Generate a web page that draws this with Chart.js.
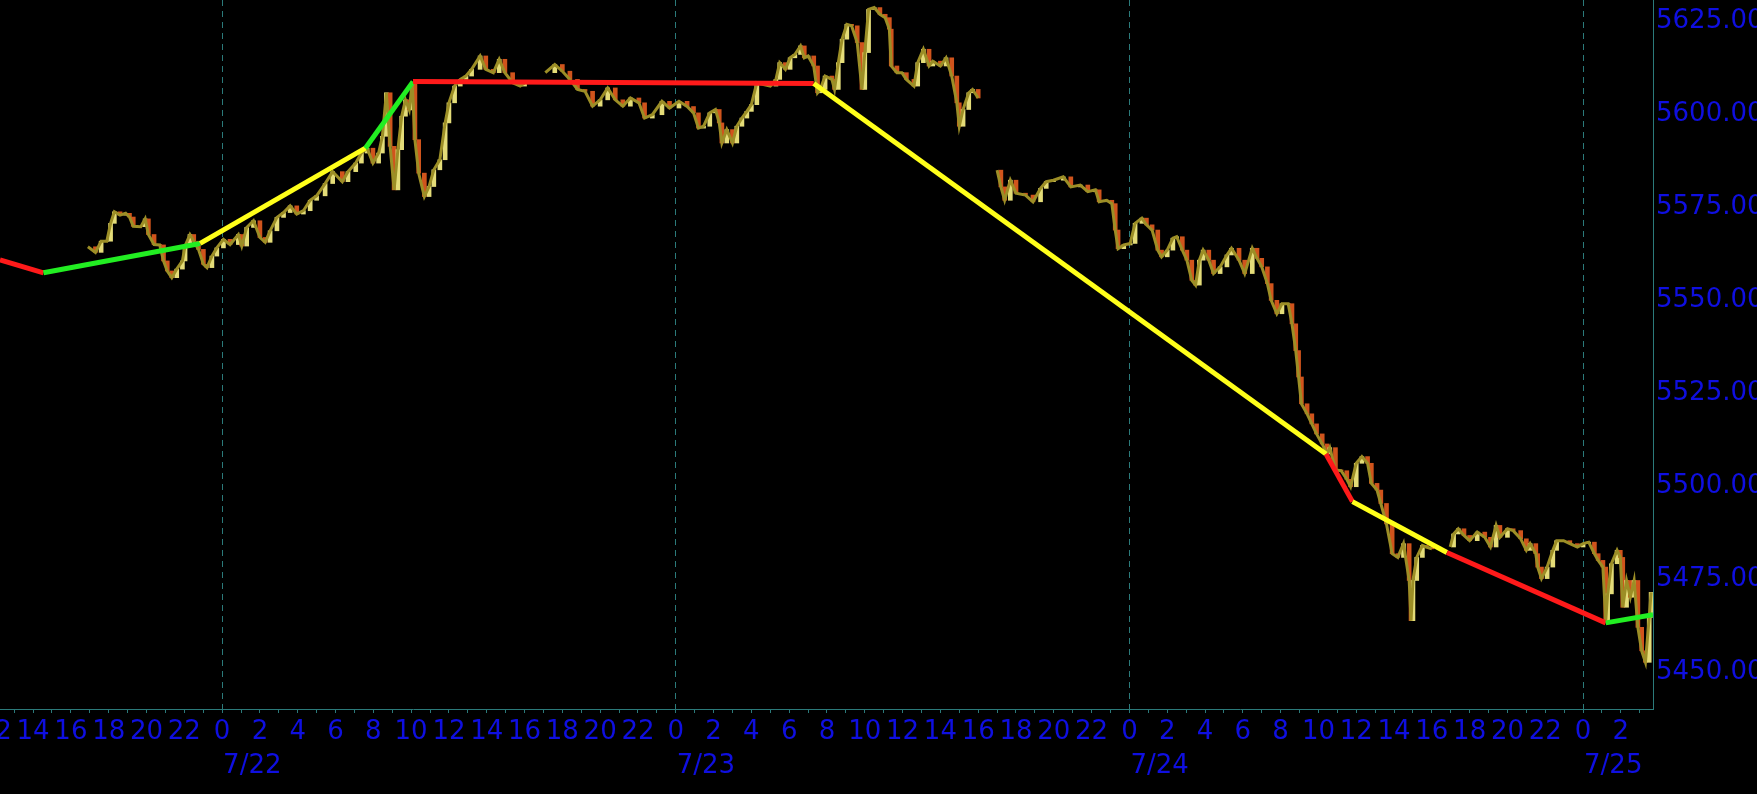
<!DOCTYPE html>
<html>
<head>
<meta charset="utf-8">
<script src="https://cdn.jsdelivr.net/npm/chart.js@4.4.1/dist/chart.umd.min.js"></script>
<style>
    html, body { margin: 0; padding: 0; background: #000; }
    canvas { display: block; }
</style>
</head>
<body>
<canvas id="chart" width="1757" height="794"></canvas>
<script>
// time is in hours counted from 7/22 0:00, null = session break
const hours = [
    -7.1, -6.7, -6.4, -6.1, -5.9, -5.7, -5.4, -5.1, -4.9, -4.7, -4.3, -4.07, -3.9, -3.6, -3.3, -3.1, -2.9, -2.66, -2.4, -2.1,
    -1.96, -1.7, -1.5, -1.25, -0.99, -0.8, -0.54, -0.28, 0.07, 0.42, 0.86, 1.04, 1.3, 1.66, 2.0, 2.28, 2.54, 2.9, 3.25, 3.6,
    3.95, 4.3, 4.66, 5.0, 5.45, 5.85, 6.36, 6.66, 7.07, 7.37, 7.67, 7.98, 8.28, 8.48, 8.69, 8.89, 9.1, 9.3, 9.5, 9.7,
    9.9, 10.06, 10.2, 10.4, 10.7, 10.95, 11.2, 11.52, 11.8, 12.0, 12.3, 12.6, 12.9, 13.2, 13.65, 13.95, 14.35, 14.66, 14.96, 15.37,
    15.77, 16.0, 16.5, 17.1, 17.6, 18.0, 18.4, 18.8, 19.2, 19.6, 20.0, 20.4, 20.8, 21.2, 21.6, 22.05, 22.35, 22.76, 23.27, 23.67,
    24.17, 24.6, 24.94, 25.2, 25.47, 25.8, 26.1, 26.3, 26.44, 26.7, 27.0, 27.23, 27.5, 27.76, 28.0, 28.29, 28.64, 29.0, 29.3, 29.5,
    29.8, 30.05, 30.3, 30.6, 30.8, 31.0, 31.3, 31.5, 31.64, 31.9, 32.26, 32.4, 32.6, 32.8, 33.05, 33.3, 33.6, 33.85, 34.0, 34.2,
    34.5, 34.8, 35.08, 35.3, 35.4, 35.7, 35.96, 36.2, 36.6, 36.8, 37.1, 37.4, 37.6, 38.0, 38.3, 38.6, 38.87, 39.0, 39.2, 39.5,
    39.7, 40.0, 40.5, 41.0, 41.2, 41.4, 41.7, 42.0, 42.5, 42.9, 43.3, 43.6, 43.98, 44.5, 44.9, 45.4, 45.8, 46.2, 46.4, 46.8,
    47.07, 47.25, 47.4, 47.7, 48.04, 48.3, 48.66, 48.9, 49.2, 49.5, 49.7, 50.0, 50.3, 50.5, 50.8, 51.04, 51.3, 51.5, 51.7, 51.9,
    52.2, 52.45, 52.8, 53.16, 53.4, 53.8, 54.1, 54.5, 54.75, 55.0, 55.3, 55.5, 55.8, 56.07, 56.4, 56.6, 56.8, 56.95, 57.1, 57.4,
    57.65, 57.9, 58.2, 58.45, 58.6, 58.9, 59.2, 59.5, 59.7, 60.0, 60.3, 60.6, 60.8, 61.1, 61.3, 61.6, 61.9, 62.2, 62.5, 62.8,
    62.9, 63.0, 63.2, 63.5, 63.7, 64.0, 64.5, 64.97, 65.15, 65.4, 65.7, 66.0, 66.4, 66.8, 67.1, 67.4, 67.6, 68.0, 68.3, 68.7,
    69.0, 69.2, 69.5, 69.6, 69.8, 70.1, 70.4, 70.6, 70.97, 71.3, 71.7, 72.0, 72.3, 72.6, 72.8, 73.05, 73.2, 73.3, 73.5, 73.8,
    73.97, 74.1, 74.3, 74.5, 74.7, 74.9, 75.1, 75.3, 75.5, 75.6
];
const prices = [
    5563.5, 5562, 5565, 5565, 5569.8, 5572.9, 5572, 5572.5, 5571.5, 5569, 5568.9, 5571, 5566.8, 5564.1, 5564, 5559.7, 5557, 5555.2, 5557.5, 5559.7,
    5563.7, 5566.8, 5565, 5562.8, 5558.8, 5557.9, 5561, 5563.2, 5565.5, 5564.1, 5566.8, 5563.7, 5568.7, 5570.5, 5566, 5564.7, 5567.8, 5571.4, 5572.7, 5574.5,
    5572.3, 5573.2, 5576, 5577.2, 5580.5, 5583.7, 5581, 5583.7, 5586, 5588.7, 5590, 5586, 5588.7, 5593.2, 5604.9, 5590.5, 5578.8, 5589.6, 5598.6, 5603,
    5600.3, 5607.5, 5592.3, 5583.3, 5577, 5579.7, 5584.2, 5586.9, 5596.8, 5602.2, 5606.7, 5608.5, 5609.4, 5611.2, 5614.8, 5611.2, 5610.3, 5613.9, 5610.3, 5607.6,
    5606.7, 5607.5, null, 5610.3, 5612.5, 5610.7, 5608.5, 5605.8, 5605.3, 5601.3, 5603, 5606.2, 5603, 5601.3, 5603.5, 5602.2, 5598.1, 5599, 5602.6, 5600.8,
    5602.6, 5601.2, 5599.5, 5595.4, 5595.9, 5599.5, 5600.4, 5596.8, 5591.4, 5595, 5591.4, 5595.9, 5598.1, 5599.9, 5601.7, 5607.6, 5607.1, 5606.7, 5608.5, 5613,
    5611.2, 5614.3, 5615.2, 5617.5, 5614.3, 5614.8, 5612.1, 5604.9, 5605.8, 5609.4, 5608.5, 5605.8, 5613, 5619.3, 5623.3, 5622.9, 5618.4, 5605.8, 5615.7, 5627.3,
    5627.8, 5626, 5625.1, 5622, 5612.1, 5610.3, 5610.3, 5608.5, 5606.7, 5613, 5616.6, 5612.1, 5613.4, 5612.1, 5614.3, 5609.4, 5602.2, 5595.9, 5600.4, 5604.9,
    5605.8, 5603.5, null, 5584.1, 5579.6, 5576, 5581.4, 5577.9, 5577.4, 5575.6, 5579.2, 5581, 5581.4, 5582.3, 5579.6, 5580.1, 5578.3, 5578.8, 5575.6, 5576,
    5575.1, 5568, 5563, 5564, 5564.4, 5569.8, 5571.2, 5569.4, 5568, 5562.6, 5560.8, 5562.6, 5565.8, 5566.2, 5562.6, 5559.9, 5554.5, 5553.2, 5559.9, 5562.6,
    5559.9, 5556.3, 5558.1, 5561.3, 5563.1, 5559.9, 5556.3, 5563.1, 5560.4, 5558.1, 5553.6, 5549.1, 5545.5, 5548.2, 5548.2, 5542.8, 5535.6, 5528.5, 5521.3, 5518.6,
    5515.9, 5513.2, 5510.5, 5507.8, 5509.5, 5503.5, 5503.3, 5501, 5499, 5505.3, 5507.1, 5505.3, 5499.9, 5498.1, 5494.5, 5489, 5481, 5480, 5483.7, 5473.8,
    5463, 5473.8, 5480, 5483.2, 5482.8, 5482.3, null, 5482.8, 5486.3, 5487.7, 5485.9, 5484.5, 5486.8, 5485.4, 5482.8, 5488.6, 5485.4, 5487.7, 5487.2, 5485,
    5481.9, 5483.7, 5481, 5477.4, 5474.3, 5477.4, 5481.9, 5484.5, 5484.5, 5483.7, 5482.8, 5483.7, 5484.1, 5481, 5479.2, 5477.4, 5463, 5470.2, 5478.3, 5481.9,
    5480, 5466.6, 5473.8, 5469.3, 5473.8, 5461.2, 5454.9, 5451.8, 5463.9, 5470.6
];

// zigzag turning points
const zigHours = [-11.75, -9.45, -1.16, 7.58, 10.1, 31.3, 58.4, 59.8, 64.8, 73.2, 75.7];
const zigPrices = [5560.0, 5556.5, 5564.4, 5590.0, 5607.9, 5607.4, 5507.8, 5495.0, 5481.3, 5462.4, 5464.6];
const legColors = ['#ff1a1a', '#22ee22', '#ffff1a', '#22ee22', '#ff1a1a', '#ffff1a', '#ff1a1a', '#ffff1a', '#ff1a1a', '#22ee22'];

const yTicks = [5450, 5475, 5500, 5525, 5550, 5575, 5600, 5625];
const dateLabels = ['7/22', '7/23', '7/24', '7/25'];
const dateHours = [0, 24, 48, 72];

const teal = '#2b7a7a';
const labelBlue = '#0f0fe0';
const fontFamily = '"DejaVu Sans", "Liberation Sans", sans-serif';

const xTickHours = [];
for (let h = -12; h <= 75; h++) xTickHours.push(h);

const bodies = [];
for (let i = 1; i < hours.length; i++) {
    if (prices[i] == null || prices[i - 1] == null) continue;
    bodies.push({ x: hours[i], y: [prices[i - 1], prices[i]] });
}

function noPadding(s) {
    s.paddingLeft = 0;
    s.paddingRight = 0;
    s.paddingTop = 0;
    s.paddingBottom = 0;
}

const dateLabelPlugin = {
    id: 'dateLabels',
    afterDraw(chart) {
        const xs = chart.scales.x;
        const ctx = chart.ctx;
        ctx.save();
        ctx.font = '26px ' + fontFamily;
        ctx.fillStyle = labelBlue;
        ctx.textAlign = 'left';
        ctx.textBaseline = 'middle';
        dateHours.forEach((h, i) => {
            ctx.fillText(dateLabels[i], xs.getPixelForValue(h) + 1, 766);
        });
        ctx.restore();
    }
};

new Chart(document.getElementById('chart'), {
    type: 'line',
    data: {
        datasets: [
            {
                label: 'zigzag',
                data: zigHours.map((h, i) => ({ x: h, y: zigPrices[i] })),
                borderWidth: 5,
                pointRadius: 0,
                segment: { borderColor: c => legColors[c.p0DataIndex] },
                borderColor: legColors[0]
            },
            {
                label: 'price',
                data: hours.map((h, i) => ({ x: h, y: prices[i] })),
                borderColor: '#9c8e26',
                borderWidth: 3,
                pointRadius: 0,
                spanGaps: false
            },
            {
                type: 'bar',
                label: 'bodies',
                data: bodies,
                barThickness: 4,
                backgroundColor: c => (c.raw && c.raw.y[1] >= c.raw.y[0]) ? '#e4dc78' : '#d0541c',
                borderWidth: 0
            }
        ]
    },
    options: {
        responsive: false,
        animation: false,
        layout: { padding: 0 },
        plugins: { legend: { display: false }, tooltip: { enabled: false } },
        scales: {
            x: {
                type: 'linear',
                min: -11.75,
                max: 75.7,
                offset: false,
                afterBuildTicks: s => { s.ticks = xTickHours.map(v => ({ value: v })); },
                afterFit: s => { s.height = 85; noPadding(s); },
                grid: {
                    offset: false,
                    color: c => (c.tick && c.tick.value % 24 === 0) ? teal : 'transparent',
                    tickColor: teal,
                    tickLength: 4,
                    tickBorderDash: []
                },
                border: { color: teal, width: 1, dash: [6, 5] },
                ticks: {
                    autoSkip: false,
                    maxRotation: 0,
                    minRotation: 0,
                    padding: 4,
                    color: labelBlue,
                    font: { family: fontFamily, size: 26 },
                    callback: v => v % 2 === 0 ? String(((v % 24) + 24) % 24) : ''
                }
            },
            y: {
                type: 'linear',
                position: 'right',
                min: 5439.25,
                max: 5629.84,
                afterBuildTicks: s => { s.ticks = yTicks.map(v => ({ value: v })); },
                afterFit: s => { s.width = 104; noPadding(s); },
                grid: { display: false, drawTicks: false },
                border: { display: true, color: teal, width: 1 },
                ticks: {
                    padding: 3,
                    labelOffset: 3,
                    color: labelBlue,
                    font: { family: fontFamily, size: 26 },
                    callback: v => v.toFixed(2)
                }
            }
        }
    },
    plugins: [dateLabelPlugin]
});
</script>
</body>
</html>
